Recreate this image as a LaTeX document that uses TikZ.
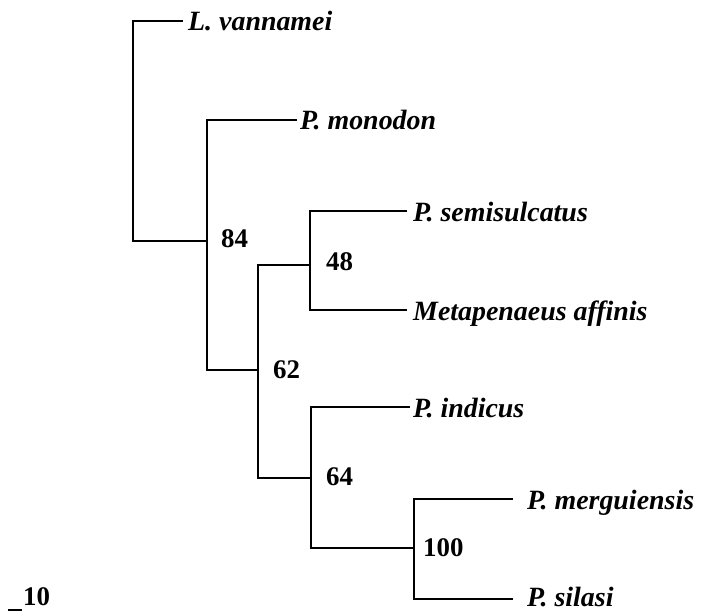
\documentclass[tikz,border=0pt]{standalone}
\usepackage{fontspec}
\setmainfont{Liberation Serif}
\begin{document}
\begin{tikzpicture}[x=1bp,y=-1bp,
  branch/.style={line width=1.2bp, black},
  leaf/.style={anchor=west, inner sep=0pt, text height=20bp, text depth=0bp,
    font=\fontsize{28}{32}\selectfont\bfseries\itshape},
  boot/.style={anchor=base west, inner sep=0pt,
    font=\fontsize{27}{31}\selectfont\bfseries}]
\useasboundingbox (0,0) rectangle (701,612);
% internal nodes
\coordinate (nroot) at (133,241);
\coordinate (n84) at (207,241);
\coordinate (n62) at (258,370);
\coordinate (n48) at (310,265);
\coordinate (n64) at (311,478);
\coordinate (n100) at (414,548);
% tips
\coordinate (tlv) at (183,21);
\coordinate (tmo) at (297,120);
\coordinate (tse) at (407,211);
\coordinate (taf) at (407,310);
\coordinate (tin) at (410,407);
\coordinate (tme) at (513,499);
\coordinate (tsi) at (513,599);
% labels
\node[leaf] (lv) at (188,21) {L. vannamei};
\node[leaf] (mo) at (300,120) {P. monodon};
\node[leaf] (se) at (413,211) {P. semisulcatus};
\node[leaf] (af) at (413,310) {Metapenaeus affinis};
\node[leaf] (in) at (413,407) {P. indicus};
\node[leaf] (me) at (527,499) {P. merguiensis};
\node[leaf] (si) at (527,596) {P. silasi};
% bootstrap values
\node[boot] (b84) at (221,247) {84};
\node[boot] (b62) at (273,378) {62};
\node[boot] (b48) at (326,270) {48};
\node[boot] (b64) at (326,485) {64};
\node[boot] (b100) at (423,556) {100};
% branches
\draw[branch] (tlv) -| (nroot) |- (n84);
\draw[branch] (tmo) -| (n84) |- (n62);
\draw[branch] (n48) -| (n62) |- (n64);
\draw[branch] (tse) -| (n48) |- (taf);
\draw[branch] (tin) -| (n64) |- (n100);
\draw[branch] (tme) -| (n100) |- (tsi);
% scale bar
\coordinate (sb1) at (8,610);
\coordinate (sb2) at (22,610);
\draw[branch] (sb1) -- (sb2);
\node[boot] (sbl) at (23,605) {10};
\end{tikzpicture}
\end{document}
